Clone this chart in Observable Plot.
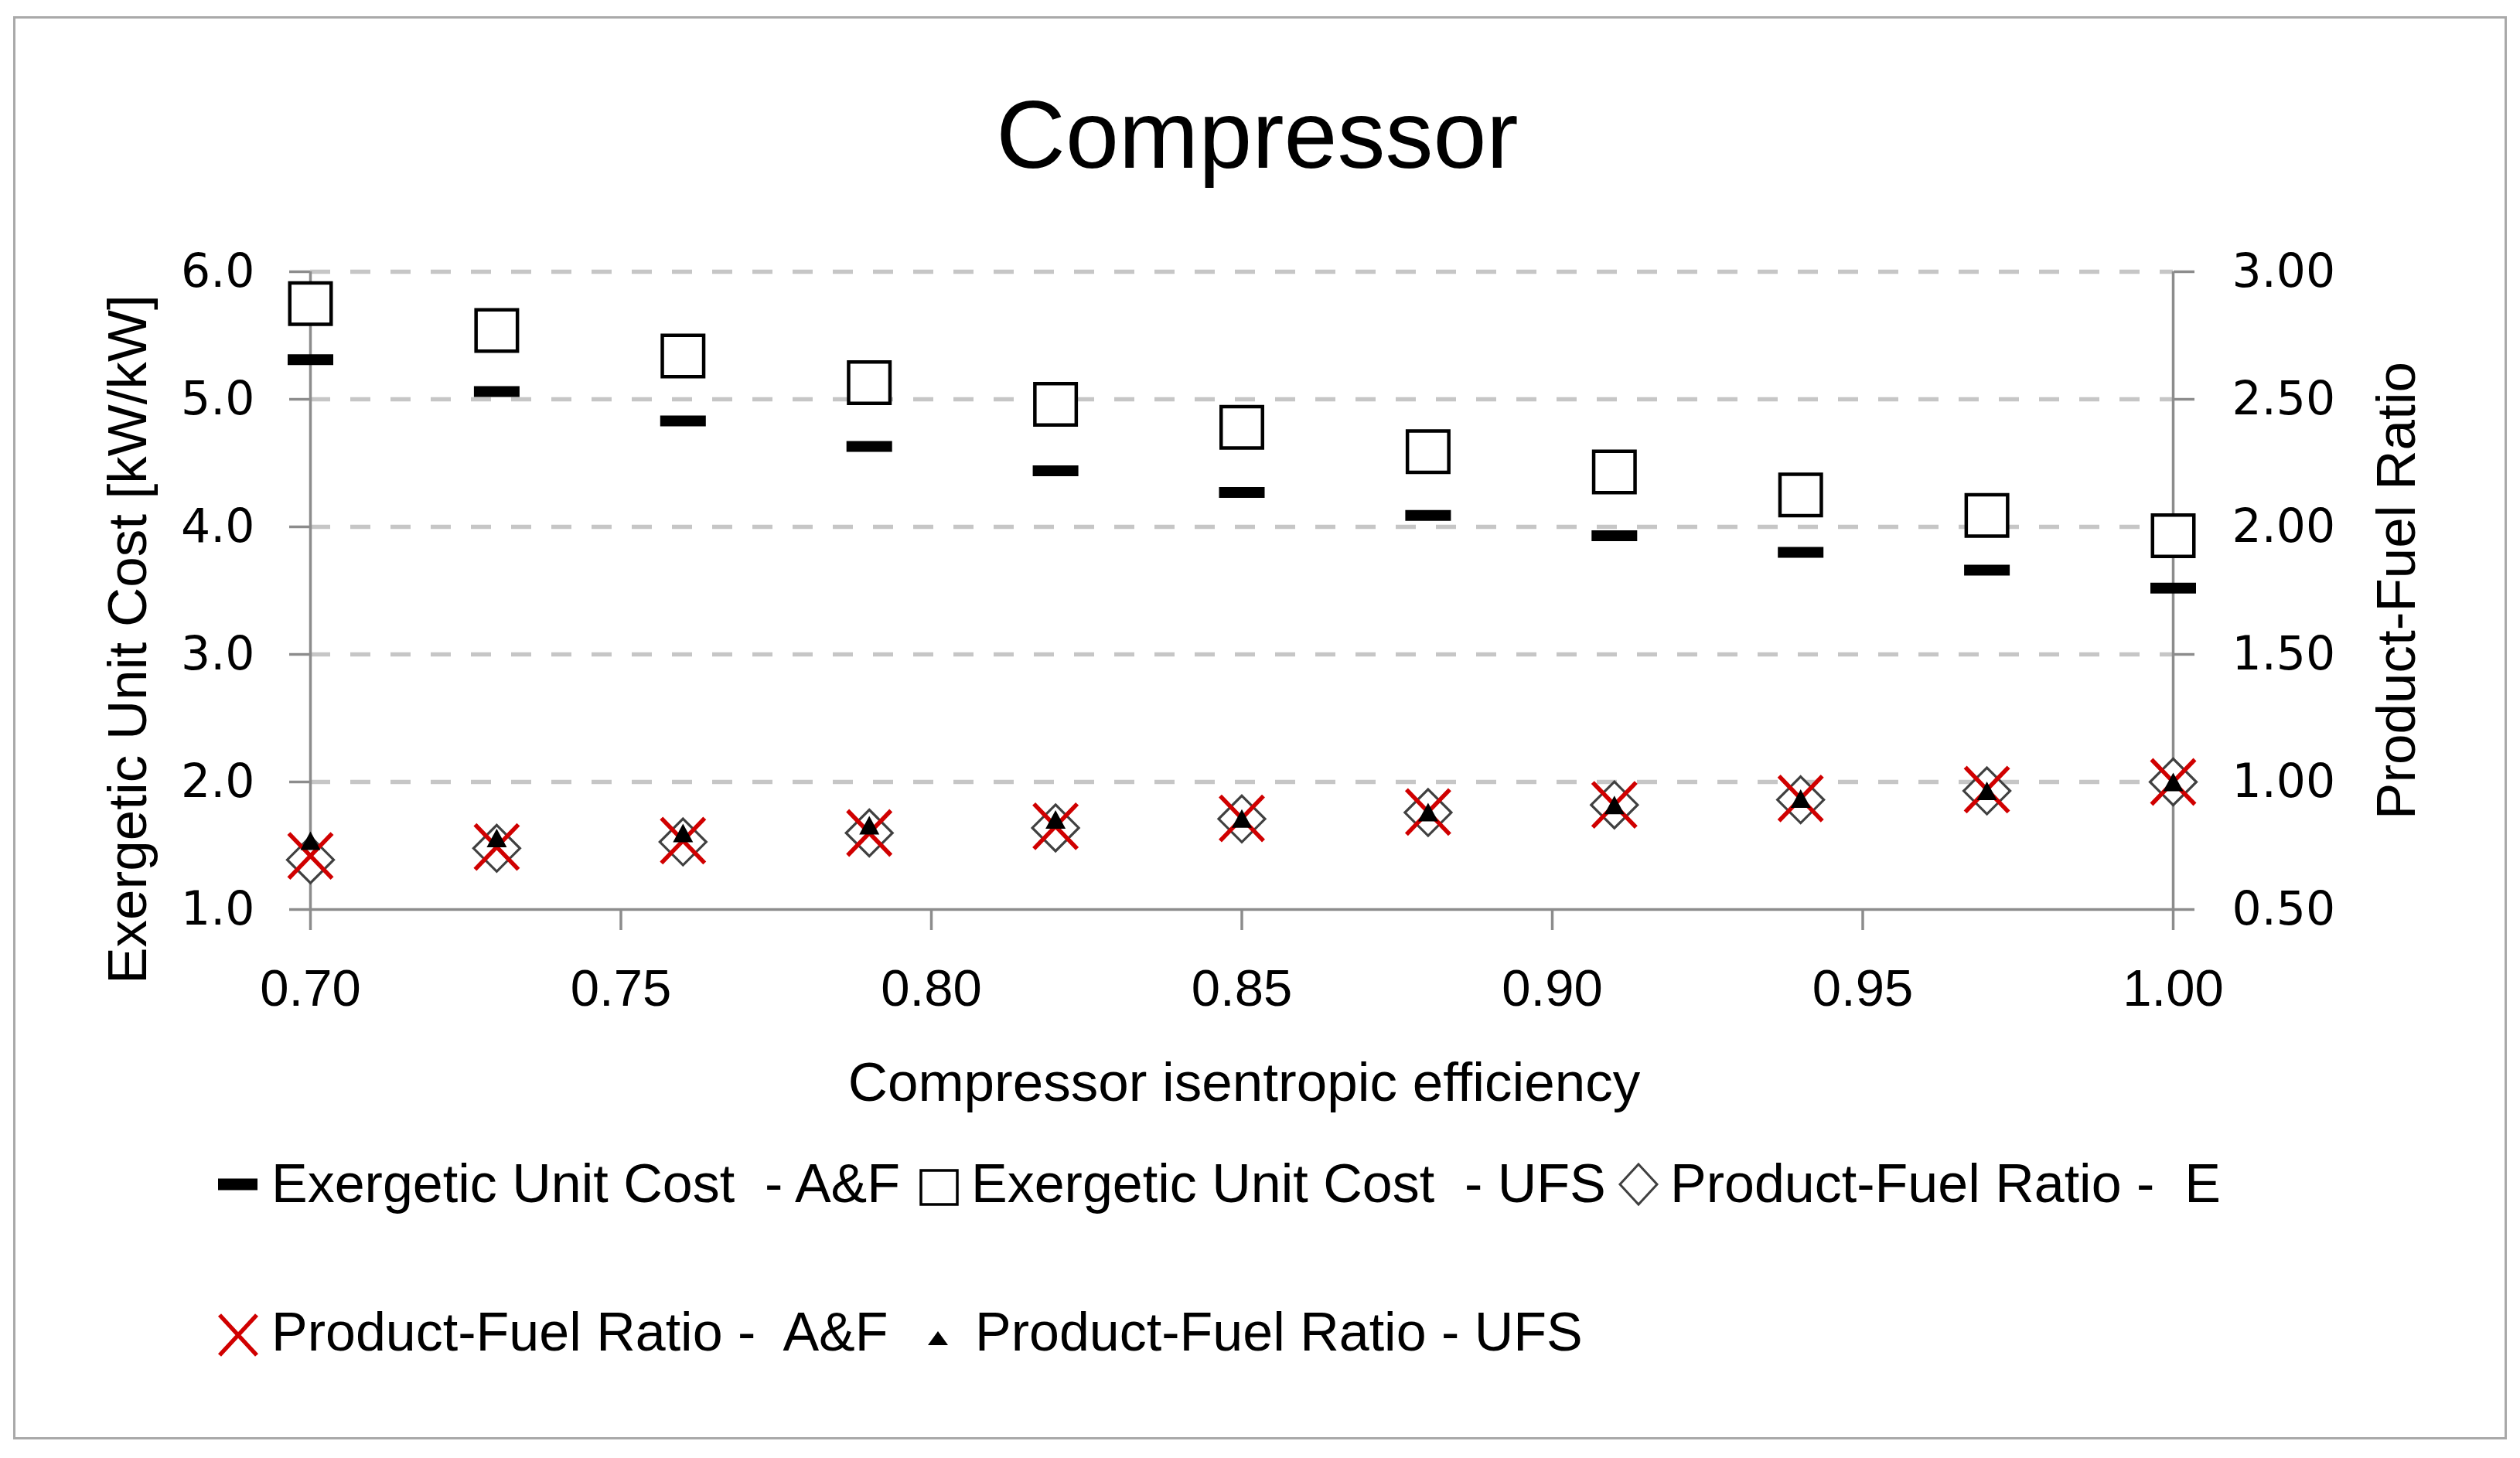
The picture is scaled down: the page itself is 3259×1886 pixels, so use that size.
<!DOCTYPE html>
<html><head><meta charset="utf-8">
<script src="https://cdn.jsdelivr.net/npm/d3@7"></script>
<script src="https://cdn.jsdelivr.net/npm/@observablehq/plot@0.6"></script>
<style>
html,body{margin:0;padding:0;background:#fff;}
#wrap{position:relative;width:3259px;height:1886px;overflow:hidden;background:#fff;}
#wrap > svg{position:absolute;left:0;top:0;}
#frame{position:absolute;left:17px;top:21px;width:3225px;height:1841px;border:3px solid #a9a9a9;box-sizing:border-box;pointer-events:none;}
</style></head><body><div id="wrap"></div>
<script>
const title = "Compressor";
const xLabel = "Compressor isentropic efficiency";
const yLabelLeft = "Exergetic Unit Cost [kW/kW]";
const yLabelRight = "Product-Fuel Ratio";

const efficiency = [0.70, 0.73, 0.76, 0.79, 0.82, 0.85, 0.88, 0.91, 0.94, 0.97, 1.00];
const costAF  = [5.31, 5.06, 4.83, 4.63, 4.44, 4.27, 4.09, 3.93, 3.80, 3.66, 3.52];
const costUFS = [5.75, 5.54, 5.34, 5.13, 4.96, 4.78, 4.59, 4.43, 4.25, 4.09, 3.93];
const pfE   = [0.695, 0.740, 0.765, 0.800, 0.820, 0.855, 0.880, 0.910, 0.930, 0.965, 1.000];
const pfAF  = [0.710, 0.745, 0.770, 0.800, 0.826, 0.857, 0.882, 0.910, 0.935, 0.970, 1.000];
const pfUFS = [0.770, 0.780, 0.800, 0.830, 0.853, 0.857, 0.882, 0.910, 0.935, 0.965, 1.000];

const xTicks = [0.70, 0.75, 0.80, 0.85, 0.90, 0.95, 1.00];
const yTicksLeft = [1, 2, 3, 4, 5, 6];
const yTicksRight = [0.5, 1.0, 1.5, 2.0, 2.5, 3.0];
const rightToLeft = 2; // secondary axis: 0.50–3.00 maps onto 1.0–6.0

const seriesNames = [
  "Exergetic Unit Cost  - A&F",
  "Exergetic Unit Cost  - UFS",
  "Product-Fuel Ratio -  E",
  "Product-Fuel Ratio -  A&F",
  "Product-Fuel Ratio - UFS"
];

const rows = efficiency.map((e, i) => ({
  eff: e, costAF: costAF[i], costUFS: costUFS[i],
  pfE: pfE[i], pfAF: pfAF[i], pfUFS: pfUFS[i]
}));

const sym = {
  dash: {draw(c) { c.rect(-29.5, -7, 59, 14); }},
  square: {draw(c) { c.rect(-26.75, -26.75, 53.5, 53.5); }},
  diamond: {draw(c) { c.moveTo(0, -30); c.lineTo(30, 0); c.lineTo(0, 30); c.lineTo(-30, 0); c.closePath(); }},
  cross: {draw(c) { c.moveTo(-28, -29); c.lineTo(28, 29); c.moveTo(-28, 29); c.lineTo(28, -29); }},
  tri: {draw(c) { c.moveTo(0, -12); c.lineTo(13, 12); c.lineTo(-13, 12); c.closePath(); }}
};

const axisGray = "#8c8c8c";
const red = "#d00000";
const sans = "Liberation Sans, Arial, sans-serif";
const wide = "DejaVu Sans, Verdana, sans-serif";

const plot = Plot.plot({
  width: 3259, height: 1480,
  marginLeft: 401, marginRight: 449, marginTop: 351, marginBottom: 304,
  x: {domain: [0.70, 1.00]},
  y: {domain: [1, 6]},
  style: {background: "transparent", fontFamily: sans, color: "#000", maxWidth: "none"},
  marks: [
    Plot.gridY(yTicksLeft.slice(1), {stroke: "#c6c6c6", strokeOpacity: 1, strokeWidth: 5.5, strokeDasharray: "26,26"}),
    Plot.axisX(xTicks, {tickFormat: d => d.toFixed(2), tickSize: 27, tickPadding: 50, fontSize: 67, fontFamily: sans,
      label: null, stroke: axisGray, strokeWidth: 3.5, fill: "#000"}),
    Plot.axisY(yTicksLeft, {anchor: "left", tickFormat: d => d.toFixed(1), tickSize: 27, tickPadding: 45, fontSize: 60,
      fontFamily: wide, label: null, stroke: axisGray, strokeWidth: 3.5, fill: "#000"}),
    Plot.axisY(yTicksRight.map(v => v * rightToLeft), {anchor: "right", tickFormat: v => (v / rightToLeft).toFixed(2),
      tickSize: 27, tickPadding: 49, fontSize: 60, fontFamily: wide, label: null, stroke: axisGray, strokeWidth: 3.5, fill: "#000"}),
    Plot.ruleY([yTicksLeft[0]], {stroke: axisGray, strokeWidth: 3.5}),
    Plot.ruleX([xTicks[0], xTicks[xTicks.length - 1]], {stroke: axisGray, strokeWidth: 3.5}),
    Plot.dot(rows, {x: "eff", y: "costAF", symbol: sym.dash, fill: "#000", stroke: "none"}),
    Plot.dot(rows, {x: "eff", y: "costUFS", symbol: sym.square, fill: "#fff", stroke: "#000", strokeWidth: 4.5}),
    Plot.dot(rows, {x: "eff", y: d => d.pfE * rightToLeft, symbol: sym.diamond, fill: "#fff", stroke: "#404040", strokeWidth: 3.2}),
    Plot.dot(rows, {x: "eff", y: d => d.pfAF * rightToLeft, symbol: sym.cross, fill: "none", stroke: red, strokeWidth: 5.5}),
    Plot.dot(rows, {x: "eff", y: d => d.pfUFS * rightToLeft, symbol: sym.tri, fill: "#000", stroke: "none"}),
    Plot.text([title], {text: d => d, frameAnchor: "top", textAnchor: "middle", dx: 20, dy: -135, lineAnchor: "bottom", fontSize: 124, fill: "#000"}),
    Plot.text([xLabel], {text: d => d, frameAnchor: "bottom", textAnchor: "middle", dx: 3, dy: 247, lineAnchor: "bottom", fontSize: 71, fill: "#000"}),
    Plot.text([yLabelLeft], {text: d => d, frameAnchor: "left", textAnchor: "middle", rotate: -90, dx: -213, dy: 63, lineAnchor: "bottom", fontSize: 71, fill: "#000"}),
    Plot.text([yLabelRight], {text: d => d, frameAnchor: "right", textAnchor: "middle", rotate: -90, dx: 312, dy: 0, lineAnchor: "bottom", fontSize: 71, fill: "#000"})
  ]
});

const wrap = document.getElementById("wrap");
wrap.appendChild(plot);

// Legend (below the plot SVG)
const leg = d3.create("svg").attr("width", 3259).attr("height", 406)
  .style("position", "absolute").style("left", "0px").style("top", "1480px");
const items = [
  {name: seriesNames[0], tx: 351, base: 75, draw: g => g.append("rect").attr("x", 282).attr("y", 44.5).attr("width", 51).attr("height", 15).attr("fill", "#000")},
  {name: seriesNames[1], tx: 1256, base: 75, draw: g => g.append("rect").attr("x", 1191).attr("y", 34).attr("width", 47).attr("height", 44).attr("fill", "#fff").attr("stroke", "#000").attr("stroke-width", 3.5)},
  {name: seriesNames[2], tx: 2160, base: 75, draw: g => g.append("path").attr("d", "M2119,26L2143,52L2119,78L2095,52Z").attr("fill", "#fff").attr("stroke", "#404040").attr("stroke-width", 3)},
  {name: seriesNames[3], tx: 351, base: 267, draw: g => g.append("path").attr("d", "M284,221L332,273M284,273L332,221").attr("stroke", red).attr("stroke-width", 5.5).attr("fill", "none")},
  {name: seriesNames[4], tx: 1261, base: 267, draw: g => g.append("path").attr("d", "M1213,242L1226,260L1200,260Z").attr("fill", "#000")}
];
for (const it of items) {
  it.draw(leg);
  leg.append("text").attr("x", it.tx).attr("y", it.base).attr("font-family", sans).attr("font-size", 70)
    .attr("fill", "#000").attr("xml:space", "preserve").style("white-space", "pre").text(it.name);
}
wrap.appendChild(leg.node());

const frame = document.createElement("div");
frame.id = "frame";
wrap.appendChild(frame);
</script></body></html>
